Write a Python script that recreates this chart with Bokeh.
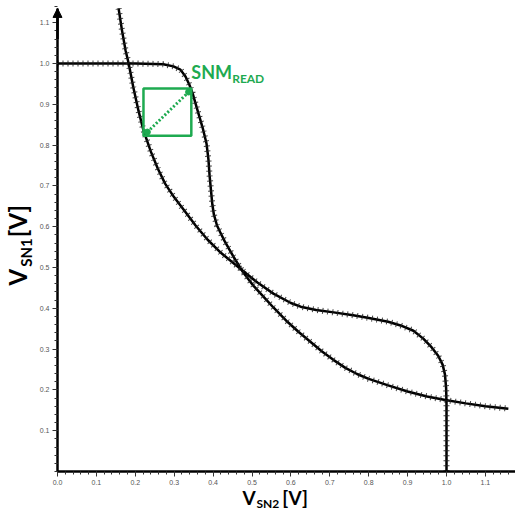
import math
from bokeh.plotting import figure
from bokeh.models import Range1d, FixedTicker, Label, Arrow, NormalHead
from bokeh.embed import file_html
from bokeh.resources import INLINE

# ---------------- data ----------------
# Curve A : y = V_SN1 against x = V_SN2
curve_a_x = [0.00, 0.10, 0.20, 0.25, 0.272, 0.298, 0.316, 0.329, 0.339, 0.347,
             0.360, 0.373, 0.383, 0.388, 0.391, 0.395, 0.398, 0.402, 0.410, 0.418,
             0.430, 0.452, 0.478, 0.504, 0.530, 0.555, 0.591, 0.620, 0.650, 0.680,
             0.710, 0.740, 0.770, 0.800, 0.850, 0.900, 0.950, 0.997, 1.050, 1.100, 1.159]
curve_a_y = [1.000, 1.000, 1.000, 0.999, 0.998, 0.993, 0.985, 0.968, 0.948, 0.928,
             0.885, 0.843, 0.804, 0.765, 0.725, 0.685, 0.655, 0.630, 0.603, 0.587,
             0.564, 0.527, 0.487, 0.455, 0.428, 0.402, 0.367, 0.342, 0.318, 0.294,
             0.273, 0.254, 0.239, 0.227, 0.211, 0.196, 0.184, 0.175, 0.167, 0.160, 0.154]

# Curve B : the mirrored butterfly wing
curve_b_x = [0.157, 0.166, 0.175, 0.183, 0.195, 0.208, 0.221, 0.240, 0.258, 0.277,
             0.300, 0.324, 0.355, 0.386, 0.420, 0.470, 0.514, 0.555, 0.600, 0.625,
             0.665, 0.710, 0.760, 0.797, 0.850, 0.882, 0.915, 0.941, 0.962, 0.979,
             0.990, 0.996, 0.999, 1.000, 1.000]
curve_b_y = [1.135, 1.080, 1.032, 1.000, 0.941, 0.885, 0.836, 0.784, 0.742, 0.705,
             0.672, 0.642, 0.603, 0.568, 0.536, 0.497, 0.463, 0.436, 0.413, 0.404,
             0.396, 0.390, 0.383, 0.377, 0.367, 0.358, 0.345, 0.325, 0.304, 0.283,
             0.262, 0.238, 0.205, 0.170, 0.000]

x_ticks = [0.0, 0.1, 0.2, 0.3, 0.4, 0.5, 0.6, 0.7, 0.8, 0.9, 1.0, 1.1]
x_tick_labels = ["0.0", "0.1", "0.2", "0.3", "0.4", "0.5", "0.6", "0.7", "0.8", "0.9", "1.0", "1.1"]
y_ticks = [0.1, 0.2, 0.3, 0.4, 0.5, 0.6, 0.7, 0.8, 0.9, 1.0, 1.1]
y_tick_labels = ["0.1", "0.2", "0.3", "0.4", "0.5", "0.6", "0.7", "0.8", "0.9", "1.0", "1.1"]

# SNM_READ square (largest nested square) and its diagonal
snm_box_x = [0.221, 0.344]
snm_box_y = [0.823, 0.939]
snm_diag_x = [0.231, 0.337]
snm_diag_y = [0.832, 0.930]

GREEN = "#1eaa50"
TITLE_FONT = "Lato"

# frame covers the whole canvas; axes are pinned at the data origin
XPX, YPX = 389.0, 408.0          # pixels per volt
p = figure(width=515, height=515, output_backend="svg", toolbar_location=None,
           x_range=Range1d(-57 / XPX, 458 / XPX), y_range=Range1d(-44 / YPX, 471 / YPX),
           min_border_left=0, min_border_bottom=0, min_border_top=0, min_border_right=0)
p.outline_line_color = None
p.grid.visible = False
p.background_fill_color = "white"
p.border_fill_color = "white"

minor = [i / 50 for i in range(0, 59)]
p.xaxis.ticker = FixedTicker(ticks=x_ticks, minor_ticks=minor)
p.yaxis.ticker = FixedTicker(ticks=y_ticks, minor_ticks=minor)
p.xaxis.major_label_overrides = {t: l for t, l in zip(x_ticks, x_tick_labels)}
p.yaxis.major_label_overrides = {t: l for t, l in zip(y_ticks, y_tick_labels)}
p.xaxis.fixed_location = 0
p.yaxis.fixed_location = 0
p.xaxis.bounds = (0, 1.18)
p.yaxis.bounds = (0, 1.135)

for ax in (p.xaxis[0], p.yaxis[0]):
    ax.axis_line_width = 2.5
    ax.axis_line_color = "black"
    ax.major_tick_line_color = "#333333"
    ax.minor_tick_line_color = "#333333"
    ax.major_tick_line_width = 1
    ax.minor_tick_line_width = 1
    ax.major_tick_out = 5
    ax.major_tick_in = 0
    ax.minor_tick_out = 3
    ax.minor_tick_in = 0
    ax.major_label_text_font = "Liberation Sans"
    ax.major_label_text_font_size = "7px"
    ax.major_label_text_color = "#555555"
    ax.major_label_standoff = 3

# curves: solid line + perpendicular tick marks ("+" markers)
for xs, ys in ((curve_a_x, curve_a_y), (curve_b_x, curve_b_y)):
    p.line(xs, ys, line_color="black", line_width=2.5)
    p.line(xs, ys, line_color="#222222", line_width=6, line_dash="1 4", line_alpha=0.85)

# SNM square and dotted diagonal
p.quad(left=[snm_box_x[0]], right=[snm_box_x[1]], bottom=[snm_box_y[0]], top=[snm_box_y[1]],
       fill_color=None, line_color=GREEN, line_width=2.5)
p.line(snm_diag_x, snm_diag_y, line_color=GREEN, line_width=3, line_dash="2 2")
p.scatter(snm_diag_x, snm_diag_y, size=6, color=GREEN)

# arrow head on the y axis
p.add_layout(Arrow(end=NormalHead(size=9, fill_color="black", line_color="black"),
                   x_start=0, y_start=1.06, x_end=0, y_end=1.135,
                   line_width=2.5, line_color="black"))

# SNM_READ label
p.add_layout(Label(x=0.344, y=0.953, text="SNM", text_font=TITLE_FONT,
                   text_font_size="18px", text_color=GREEN, text_font_style="bold"))
p.add_layout(Label(x=0.449, y=0.946, text="READ", text_font=TITLE_FONT,
                   text_font_size="12px", text_color=GREEN, text_font_style="bold"))

# x axis title  V_SN2[V]
p.add_layout(Label(x=0.4756, y=-0.0907, text="V", text_font=TITLE_FONT,
                   text_font_size="19px", text_font_style="bold", text_color="black"))
p.add_layout(Label(x=0.5116, y=-0.0956, text="SN2", text_font=TITLE_FONT,
                   text_font_size="12px", text_font_style="bold", text_color="black"))
p.add_layout(Label(x=0.578, y=-0.0907, text="[V]", text_font=TITLE_FONT,
                   text_font_size="19px", text_font_style="bold", text_color="black"))

# y axis title  V_SN1[V] (rotated)
p.add_layout(Label(x=-0.0643, y=0.456, text="V", angle=math.pi / 2, text_font=TITLE_FONT,
                   text_font_size="24px", text_font_style="bold", text_color="black"))
p.add_layout(Label(x=-0.0566, y=0.502, text="SN1", angle=math.pi / 2, text_font=TITLE_FONT,
                   text_font_size="15px", text_font_style="bold", text_color="black"))
p.add_layout(Label(x=-0.0643, y=0.574, text="[V]", angle=math.pi / 2, text_font=TITLE_FONT,
                   text_font_size="24px", text_font_style="bold", text_color="black"))

open("out.html", "w").write(file_html(p, INLINE))
